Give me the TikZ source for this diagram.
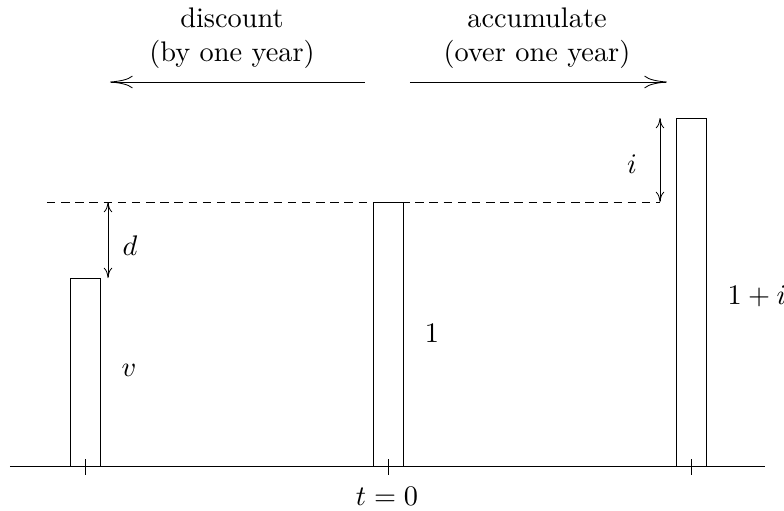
\documentclass[tikz,border=0pt]{standalone}
\usetikzlibrary{arrows.meta}

\begin{document}
\begin{tikzpicture}[x=0.353pt, y=-0.353pt, line width=0.3pt,
    bar/.style={draw, fill=white},
    bigarrow/.style={-{To[length=8pt, width=4.4pt]}},
    gap/.style={{To[length=3.6pt, width=3pt]}-{To[length=3.6pt, width=3pt]}}]

  \useasboundingbox (0,0) rectangle (784,511);

  % Axis
  \coordinate (axl) at (10,466);
  \coordinate (axr) at (765,466);
  \draw (axl) -- (axr);

  % Bars
  \draw[bar] (70,466) rectangle (100,278);
  \draw[bar] (373,466) rectangle (403,202);
  \draw[bar] (676,466) rectangle (706,118);

  % Ticks
  \foreach \x in {85,388,691}
    \draw (\x,459) -- (\x,475);

  % Level of 1
  \coordinate (dl) at (47,202);
  \coordinate (dr) at (660,202);
  \draw[dash pattern=on 3pt off 2pt] (dl) -- (dr);

  % Gaps
  \coordinate (dtop) at (108,202);
  \coordinate (dbot) at (108,278);
  \coordinate (itop) at (660,118);
  \coordinate (ibot) at (660,202);
  \draw[gap] (dtop) -- (dbot);
  \draw[gap] (itop) -- (ibot);

  % Directions
  \coordinate (disc0) at (365,82);
  \coordinate (disc1) at (110,82);
  \coordinate (acc0) at (410,82);
  \coordinate (acc1) at (667,82);
  \draw[bigarrow] (disc0) -- (disc1);
  \draw[bigarrow] (acc0) -- (acc1);

  % Labels
  \node[align=center] (disclbl) at (232,38) {discount\\(by one year)};
  \node[align=center] (acclbl) at (537,38) {accumulate\\(over one year)};
  \node (dlbl) at (130,246) {$d$};
  \node (ilbl) at (632,164) {$i$};
  \node (vlbl) at (129,370) {$v$};
  \node (onelbl) at (432,333) {$1$};
  \node (ailbl) at (757,296) {$1+i$};
  \node (tlbl) at (387,496) {$t=0$};

\end{tikzpicture}
\end{document}
